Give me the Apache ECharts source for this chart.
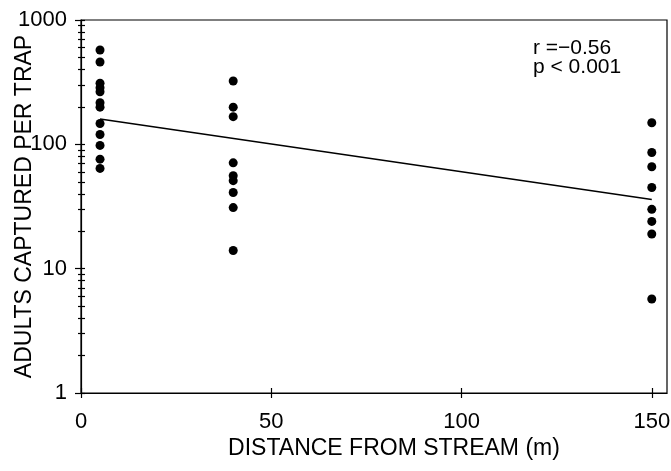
<!DOCTYPE html>
<html>
<head>
<meta charset="utf-8">
<script src="https://cdn.jsdelivr.net/npm/echarts@6/dist/echarts.min.js"></script>
<style>
  html, body { margin: 0; padding: 0; background: #fff; }
  #chart { width: 671px; height: 471px; }
</style>
</head>
<body>
<div id="chart"></div>
<script>
// distances of the three trap rows (m)
var distances = [5, 40, 150];
// adults captured per trap, read per row
var catch5 = [574, 459, 310, 285, 265, 216, 199, 147, 120, 98, 76, 64];
var catch40 = [323, 199, 167, 71, 56, 51, 41, 31, 14];
var catch150 = [149, 86, 66, 45, 30, 24, 19, 5.7];
// regression line end points
var fitX = [5, 150];
var fitY = [160, 36];
// axis ticks
var xTicks = [0, 50, 100, 150];
var yTicks = [1, 10, 100, 1000];
var statsText = ['r =\u22120.56', 'p < 0.001'];

var FONT = 'Liberation Sans';

// minor ticks between the decades: 2..9 x decade
var yMinor = [];
yTicks.slice(0, -1).forEach(function (d) {
  for (var k = 2; k <= 9; k++) yMinor.push(k * d);
});
var yAll = yTicks.concat(yMinor);

function pts(x, arr) {
  return arr.map(function (v) { return [x, v]; });
}
var points = pts(distances[0], catch5)
  .concat(pts(distances[1], catch40))
  .concat(pts(distances[2], catch150));

var lineBlack = { color: '#000', width: 1.2 };

function logAxis(extra) {
  var base = {
    type: 'log',
    logBase: 10,
    min: 1,
    max: 1000,
    position: 'left',
    splitLine: { show: false },
    axisLine: { show: false },
    axisLabel: { show: false },
    axisTick: { show: false }
  };
  return Object.assign(base, extra);
}

function xAxisBase(extra) {
  var base = {
    type: 'value',
    min: 0,
    max: 154,
    position: 'bottom',
    splitLine: { show: false },
    axisLine: { show: false },
    axisLabel: { show: false },
    axisTick: { show: false }
  };
  return Object.assign(base, extra);
}

var chart = echarts.init(document.getElementById('chart'));

chart.setOption({
  animation: false,
  backgroundColor: '#fff',
  grid: {
    left: 81, right: 4, top: 20, bottom: 78,
    containLabel: false,
    outerBoundsMode: 'none',
    show: true,
    borderColor: '#000',
    borderWidth: 1.2,
    backgroundColor: 'transparent'
  },
  xAxis: [
    xAxisBase({
      name: 'DISTANCE FROM STREAM (m)',
      nameLocation: 'middle',
      nameGap: 44,
      nameMoveOverlap: false,
      nameTextStyle: { fontFamily: FONT, fontSize: 23, color: '#000', padding: [0, 0, 0, 40] },
      axisLine: { show: true, onZero: false, lineStyle: lineBlack },
      axisTick: { show: true, inside: false, length: 5, customValues: xTicks, lineStyle: lineBlack },
      axisLabel: {
        show: true, margin: 18, customValues: xTicks,
        fontFamily: FONT, fontSize: 22, color: '#000'
      }
    }),
    xAxisBase({
      axisTick: { show: true, inside: true, length: 5, customValues: xTicks, lineStyle: lineBlack }
    })
  ],
  yAxis: [
    logAxis({
      name: 'ADULTS CAPTURED PER TRAP',
      nameLocation: 'middle',
      nameGap: 45,
      nameMoveOverlap: false,
      nameTextStyle: { fontFamily: FONT, fontSize: 23, color: '#000' },
      axisLine: { show: true, onZero: false, lineStyle: lineBlack },
      axisTick: { show: true, inside: false, length: 6, customValues: yTicks, lineStyle: lineBlack },
      axisLabel: {
        show: true, margin: 14, customValues: yTicks,
        fontFamily: FONT, fontSize: 22, color: '#000',
        formatter: function (v) { return String(Math.round(v)); }
      }
    }),
    logAxis({
      axisTick: { show: true, inside: false, length: 3, customValues: yMinor, lineStyle: lineBlack }
    }),
    logAxis({
      axisTick: { show: true, inside: true, length: 4, customValues: yAll, lineStyle: lineBlack }
    })
  ],
  graphic: [{
    type: 'text',
    left: 533,
    top: 38,
    style: {
      text: statsText.join('\n'),
      font: '21px "' + FONT + '"',
      lineHeight: 19,
      fill: '#000'
    }
  }],
  series: [
    {
      type: 'scatter',
      xAxisIndex: 0,
      yAxisIndex: 0,
      symbol: 'circle',
      symbolSize: 9,
      itemStyle: { color: '#000', opacity: 1 },
      data: points
    },
    {
      type: 'line',
      xAxisIndex: 0,
      yAxisIndex: 0,
      showSymbol: false,
      lineStyle: { color: '#000', width: 1.5 },
      data: fitX.map(function (x, i) { return [x, fitY[i]]; })
    }
  ]
});
</script>
</body>
</html>
